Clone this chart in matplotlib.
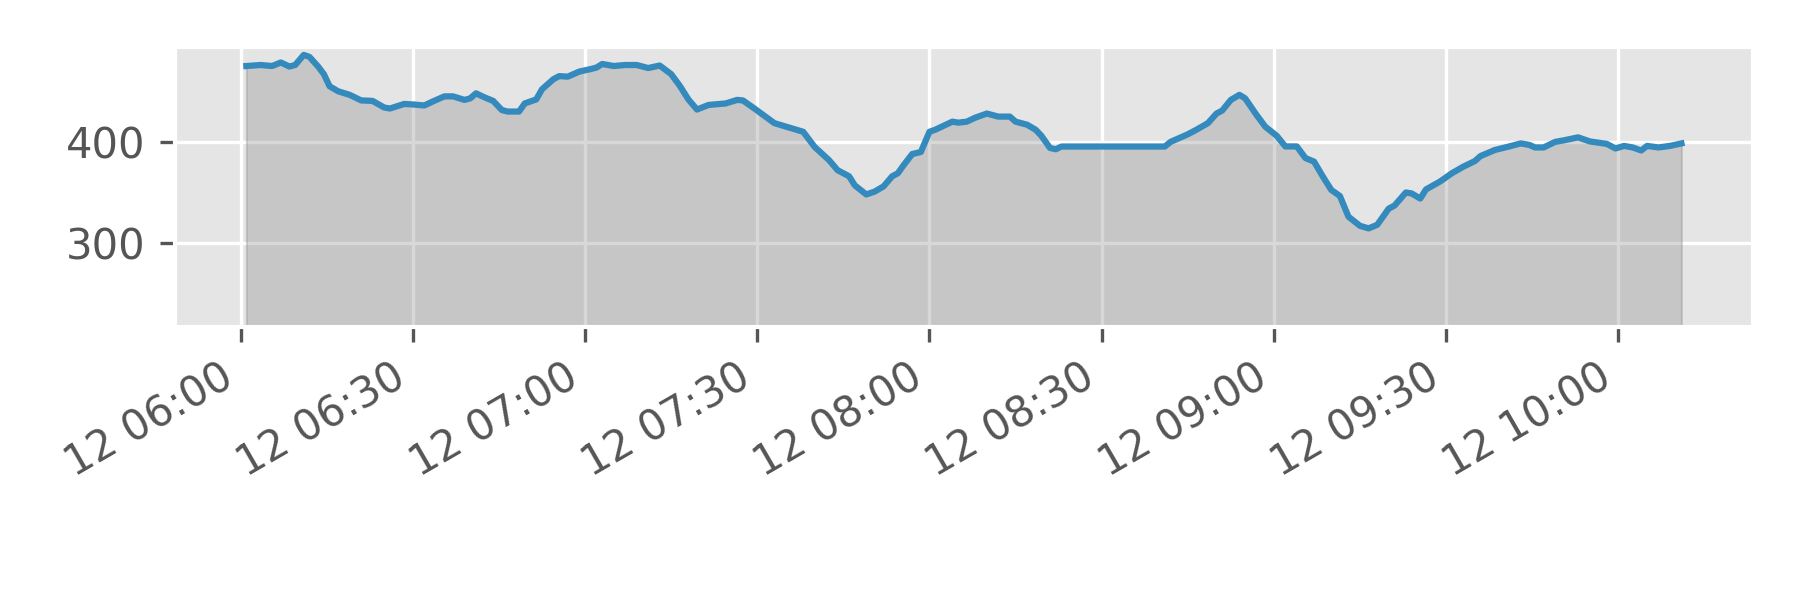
import numpy as np
import pandas as pd
import matplotlib
matplotlib.use("Agg")
import matplotlib.pyplot as plt
import matplotlib.dates as mdates
from matplotlib.ticker import MultipleLocator

plt.style.use("ggplot")

# minutes after 06:00 and the value read at that time
minutes = [1, 3.5, 5.5, 7, 8.5, 9.5, 11, 12, 13.5, 14.5, 15.5, 17, 19, 21, 23, 25, 26,
           28.5, 30, 32, 33.5, 35.5, 37, 39, 40, 41, 42.5, 44, 45.5, 46.5, 48.5, 49.5,
           51.5, 52.5, 54.5, 55.5, 57, 59, 61, 62, 63, 65, 67, 69, 71, 73, 75, 76.5,
           78, 79.5, 81.5, 84.5, 86.5, 87.5, 89.5, 93, 96.5, 98, 100, 102.5, 104, 106,
           107, 109, 110.5, 112, 113.5, 114.5, 115.5, 117, 118.5, 120, 121, 124, 125,
           126.5, 128, 130, 132, 134, 135, 137, 138.5, 139.5, 141, 142, 143, 161, 162,
           165, 166.5, 168.5, 170, 171, 172.5, 174, 175, 177, 178.5, 180.5, 182, 184,
           185.5, 187, 188.5, 190, 191.5, 193, 195, 196.5, 198, 200, 201, 203, 204,
           205.5, 206.5, 209, 211, 213, 215, 216, 218.5, 221, 223, 224.5, 225.5, 227,
           229, 230.5, 233, 235, 238, 239.5, 241, 242.5, 244, 245, 247, 249, 251]
values = [475, 476, 475, 478.5, 474.5, 476, 486, 484, 474.5, 467, 455, 450, 446.5, 441,
          440.5, 434, 433, 437.5, 437, 436, 440, 445, 445, 441.5, 443, 448, 444, 440.5,
          431.5, 430, 430, 438, 442, 452, 462, 465, 464.5, 469.5, 472, 473.5, 477, 475,
          476, 476, 473, 475.5, 467, 455.5, 442, 432, 436.5, 438, 441.5, 441, 433,
          418.5, 412.5, 410, 395, 382, 372, 366, 357, 348, 351, 356, 366, 369, 377, 388,
          390, 410, 412, 420, 419, 420, 424, 428, 425, 425, 420, 417, 412, 406, 394,
          392.7, 395.4, 395.4, 400, 407.5, 412, 418.5, 428, 431, 441.5, 446.5, 443,
          426.5, 415, 406, 395.5, 395.5, 384, 380.5, 366, 352.5, 346.5, 326, 317,
          314.5, 318, 334, 337, 350, 349, 344, 353, 361, 369, 375.5, 381, 386, 392,
          395.5, 398.5, 397, 394.5, 394.5, 400, 401.5, 404.5, 400.5, 398, 393.5, 396,
          394.5, 391.5, 396, 394.5, 396, 398.5]

start = pd.Timestamp("2020-01-12 06:00")
times = start + pd.to_timedelta(minutes, unit="min")

fig, ax = plt.subplots(figsize=(6, 2), dpi=300)
fig.subplots_adjust(left=0.097, right=0.974, top=0.922, bottom=0.455)

ax.fill_between(times, values, 0, color="gray", alpha=0.3)
ax.plot(times, values, color="#348ABD", lw=1.5)

ax.set_ylim(217, 494)
ax.yaxis.set_major_locator(MultipleLocator(100))
ax.xaxis.set_major_locator(mdates.MinuteLocator(byminute=[0, 30]))
ax.xaxis.set_major_formatter(mdates.DateFormatter("%d %H:%M"))
plt.setp(ax.get_xticklabels(), rotation=30, ha="right")

fig.savefig("out.png", dpi=300)
